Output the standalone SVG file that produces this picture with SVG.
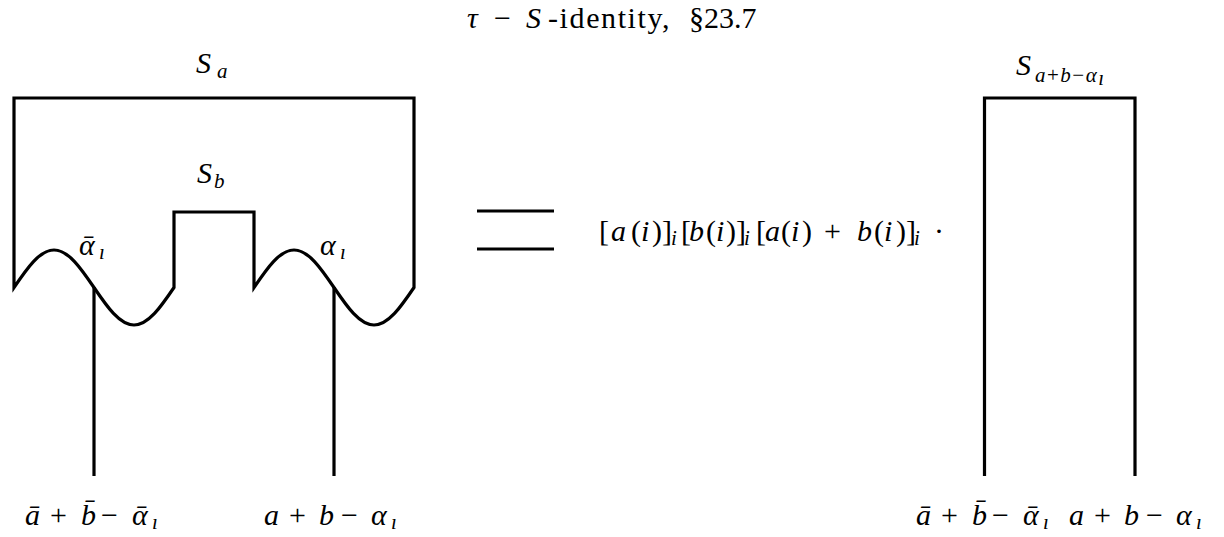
<svg xmlns="http://www.w3.org/2000/svg" width="1224" height="537" viewBox="0 0 1224 537">
<style>
.ln{fill:none;stroke:#000;stroke-width:3.2;stroke-linejoin:miter;stroke-linecap:butt}
.t{font-family:"Liberation Serif","Times New Roman",serif;font-size:30px;fill:#000}
.it{font-style:italic}
.sub{font-size:21px}
</style>
<rect width="1224" height="537" fill="#fff"/>
<g id="title">
<text class="t" y="28"><tspan class="it" x="467">τ</tspan><tspan x="494">−</tspan><tspan class="it" x="526">S</tspan><tspan x="548" letter-spacing="1.6">-identity,</tspan><tspan x="689">§23.7</tspan></text>
</g>
<g id="node-left">
<path class="ln" d="M14,287.5 C27.05,268.29 39.52,250 54,250 S80.95,268.29 94,287.5 S119.52,325 134,325 S160.95,306.71 174,287.5 L174,212 L254,212 L254,287.5 C267.05,268.29 279.52,250 294,250 S320.95,268.29 334,287.5 S359.52,325 374,325 S400.95,306.71 414,287.5 L414,98 L14,98 Z"/>
<text class="t" y="73"><tspan class="it" x="196">S</tspan><tspan class="it sub" x="217" dy="5">a</tspan></text>
<text class="t" y="183"><tspan class="it" x="197">S</tspan><tspan class="it sub" x="214" dy="5">b</tspan></text>
<text class="t" y="255"><tspan class="it" x="79">ᾱ</tspan><tspan class="it sub" x="99" dy="4">ı</tspan></text>
<text class="t" y="255"><tspan class="it" x="320">α</tspan><tspan class="it sub" x="340" dy="4">ı</tspan></text>
</g>
<g id="connectors">
<line class="ln" x1="94" y1="287" x2="94" y2="476"/>
<line class="ln" x1="334" y1="287" x2="334" y2="476"/>
</g>
<g id="labels-left">
<text class="t" y="525"><tspan class="it" x="25">ā</tspan><tspan x="50">+</tspan><tspan class="it" x="81">b̄</tspan><tspan x="101">−</tspan><tspan class="it" x="132">ᾱ</tspan><tspan class="it sub" x="152" dy="4">ı</tspan></text>
<text class="t" y="525"><tspan class="it" x="264">a</tspan><tspan x="289">+</tspan><tspan class="it" x="319">b</tspan><tspan x="341">−</tspan><tspan class="it" x="371">α</tspan><tspan class="it sub" x="391" dy="4">ı</tspan></text>
</g>
<g id="equals">
<line class="ln" x1="477" y1="211" x2="554" y2="211"/>
<line class="ln" x1="477" y1="249" x2="554" y2="249"/>
</g>
<g id="coefficient">
<text class="t" y="241"><tspan x="599">[</tspan><tspan class="it" x="611">a</tspan><tspan x="631">(</tspan><tspan class="it" x="641">i</tspan><tspan x="652">)</tspan><tspan x="662">]</tspan><tspan class="it sub" x="671" dy="4">i</tspan><tspan x="681" dy="-4">[</tspan><tspan class="it" x="689">b</tspan><tspan x="706">(</tspan><tspan class="it" x="716">i</tspan><tspan x="726">)</tspan><tspan x="736">]</tspan><tspan class="it sub" x="744" dy="4">i</tspan><tspan x="756" dy="-4">[</tspan><tspan class="it" x="765">a</tspan><tspan x="781">(</tspan><tspan class="it" x="791">i</tspan><tspan x="802">)</tspan><tspan x="824">+</tspan><tspan class="it" x="857">b</tspan><tspan x="874">(</tspan><tspan class="it" x="884">i</tspan><tspan x="896">)</tspan><tspan x="906">]</tspan><tspan class="it sub" x="914" dy="4">i</tspan><tspan x="934" dy="-4">·</tspan></text>
</g>
<g id="node-right">
<path class="ln" d="M984.5,476 V98 H1135 V476"/>
<text class="t" y="75"><tspan class="it" x="1016">S</tspan><tspan class="sub" x="1035" dy="7" letter-spacing="1.5"><tspan class="it">a</tspan>+<tspan class="it">b</tspan>−<tspan class="it">α</tspan></tspan><tspan class="it sub" dy="3" font-size="15">ı</tspan></text>
</g>
<g id="labels-right">
<text class="t" y="525"><tspan class="it" x="916">ā</tspan><tspan x="941">+</tspan><tspan class="it" x="972">b̄</tspan><tspan x="992">−</tspan><tspan class="it" x="1023">ᾱ</tspan><tspan class="it sub" x="1043" dy="4">ı</tspan></text>
<text class="t" y="525"><tspan class="it" x="1069">a</tspan><tspan x="1094">+</tspan><tspan class="it" x="1124">b</tspan><tspan x="1146">−</tspan><tspan class="it" x="1176">α</tspan><tspan class="it sub" x="1196" dy="4">ı</tspan></text>
</g>
</svg>
